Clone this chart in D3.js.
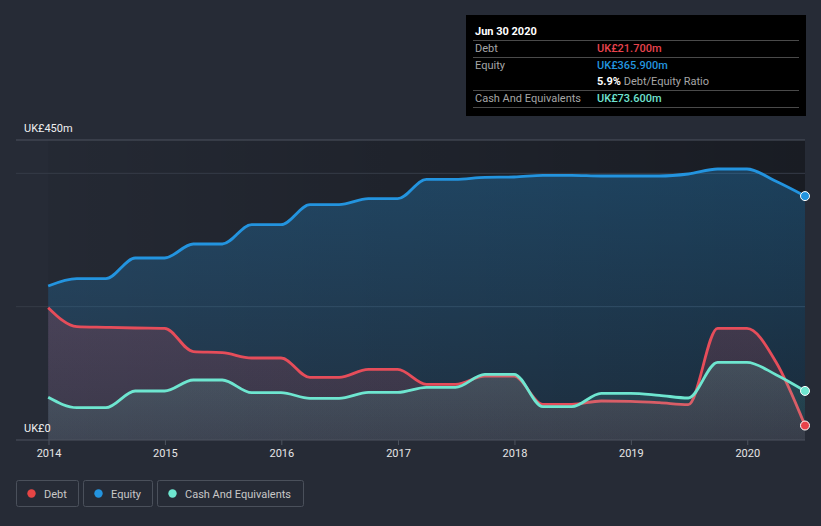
<!DOCTYPE html>
<html><head><meta charset="utf-8">
<script src="https://cdn.jsdelivr.net/npm/d3@7"></script>
<style>
html,body{margin:0;padding:0;background:#262b36;}
svg{display:block;font-family:Roboto,"Noto Sans",sans-serif;}
</style></head>
<body>
<svg id="chart" width="821" height="526"></svg>
<script>
const dates = ["2013-12-31","2014-03-31","2014-06-30","2014-09-30","2014-12-31","2015-03-31","2015-06-30","2015-09-30","2015-12-31","2016-03-31","2016-06-30","2016-09-30","2016-12-31","2017-03-31","2017-06-30","2017-09-30","2017-12-31","2018-03-31","2018-06-30","2018-09-30","2018-12-31","2019-03-31","2019-06-30","2019-09-30","2019-12-31","2020-03-31","2020-06-30"];
const equity = [231,242,242,273,273,294,294,323,323,353,353,362,362,391,391,394,394.5,397,397,396,396,396,399,406.5,406.5,388,365.9];
const debt = [198.5,170,169,168,167.5,132.5,131,123,123,94,94,106,106,83.5,83.5,96,96,53.5,53.5,58.5,58,56,53,167.5,167.5,117,21.7];
const cash = [64,48.5,48.5,73.5,73.5,90,90,71,71,62.5,62.5,71.5,71.5,79,79,98.5,98.5,50,50,70,70,67,63,116.5,116.5,98,73.6];
const yTicks = [0, 450];
const yGrid = [200, 400];
const seriesNames = ["Debt","Equity","Cash And Equivalents"];
const colors = {debt:"#e64d5a", equity:"#2394df", cash:"#6ee6d0"};

const svg = d3.select("#chart");
const parse = d3.timeParse("%Y-%m-%d");
const D = dates.map(parse);
const x = d3.scaleTime().domain([new Date(2014,0,1), new Date(2020,5,30)]).range([48.5, 805]);
const y = d3.scaleLinear().domain([0, 450]).range([440, 140]);

const defs = svg.append("defs");
const bgGrad = defs.append("linearGradient").attr("id","bgG").attr("x1",0).attr("x2",1).attr("y1",0).attr("y2",0);
bgGrad.append("stop").attr("offset","0%").attr("stop-color","#000").attr("stop-opacity",0.05);
bgGrad.append("stop").attr("offset","100%").attr("stop-color","#000").attr("stop-opacity",0.35);
function grad(id, col, o1, o2){
  const g = defs.append("linearGradient").attr("id",id).attr("gradientUnits","userSpaceOnUse")
    .attr("x1",0).attr("x2",0).attr("y1",140).attr("y2",440);
  g.append("stop").attr("offset","0%").attr("stop-color",col).attr("stop-opacity",o1);
  g.append("stop").attr("offset","100%").attr("stop-color",col).attr("stop-opacity",o2);
}
grad("gEq", colors.equity, 0.32, 0.12);
grad("gDe", colors.debt, 0.28, 0.12);
grad("gCa", colors.cash, 0.32, 0.08);

// plot background
svg.append("rect").attr("x", x(D[0])).attr("y", 140).attr("width", 805 - x(D[0])).attr("height", 300).attr("fill","url(#bgG)");

// gridlines
svg.append("line").attr("x1",16).attr("x2",805).attr("y1",y(450)).attr("y2",y(450)).attr("stroke","#4d535e").attr("stroke-width",1);
yGrid.forEach(v=>{
  svg.append("line").attr("x1",16).attr("x2",805).attr("y1",y(v)).attr("y2",y(v)).attr("stroke","#353c47").attr("stroke-width",1);
});

const curve = d3.curveMonotoneX;
function drawSeries(vals, col, gid){
  const area = d3.area().x((d,i)=>x(D[i])).y0(y(0)).y1(d=>y(d)).curve(curve);
  const line = d3.line().x((d,i)=>x(D[i])).y(d=>y(d)).curve(curve);
  svg.append("path").datum(vals).attr("d", area).attr("fill", `url(#${gid})`);
  svg.append("path").datum(vals).attr("d", line).attr("fill","none").attr("stroke", col).attr("stroke-width",2.8).attr("stroke-linejoin","round");
}
drawSeries(equity, colors.equity, "gEq");
drawSeries(debt, colors.debt, "gDe");
drawSeries(cash, colors.cash, "gCa");

// end markers
const last = D.length-1;
[[equity, colors.equity],[cash, colors.cash],[debt, "#e8424a"]].forEach(([v,c])=>{
  svg.append("circle").attr("cx", x(D[last])).attr("cy", y(v[last])).attr("r",4.5).attr("fill",c).attr("stroke","#fff").attr("stroke-width",1);
});

// x axis
svg.append("line").attr("x1",16).attr("x2",805).attr("y1",440).attr("y2",440).attr("stroke","#4d535e").attr("stroke-width",1.2);
const xAxis = d3.axisBottom(x).ticks(d3.timeYear.every(1)).tickFormat(d3.timeFormat("%Y")).tickSize(5).tickPadding(4);
const gx = svg.append("g").attr("transform","translate(0,440)").call(xAxis);
gx.select(".domain").remove();
gx.selectAll(".tick line").attr("stroke","#4d535e");
gx.selectAll(".tick text").attr("fill","#e6e6e6").attr("font-size",11).attr("font-family","Roboto, sans-serif");

// y labels
yTicks.forEach(v=>{
  svg.append("text").attr("x",24).attr("y", y(v) - 8).text(v===0 ? "UK£0" : "UK£" + v + "m")
    .attr("fill","#f0f0f0").attr("font-size",11);
});

// tooltip
const tt = svg.append("g");
tt.append("rect").attr("x",466).attr("y",15).attr("width",340).attr("height",101).attr("fill","#000");
tt.append("text").attr("x",475).attr("y",35).text("Jun 30 2020").attr("fill","#fff").attr("font-size",11).attr("font-weight","bold");
[40,57,90,107].forEach(yy=>{
  tt.append("line").attr("x1",473).attr("x2",799).attr("y1",yy+0.5).attr("y2",yy+0.5).attr("stroke","#4a4a4a");
});
const rows = [
  {label:"Debt", value:"UK£21.700m", col:"#e8434d", y:52},
  {label:"Equity", value:"UK£365.900m", col:"#2394df", y:69},
  {label:"Cash And Equivalents", value:"UK£73.600m", col:"#6fe3d0", y:102}
];
rows.forEach(r=>{
  tt.append("text").attr("x",475).attr("y",r.y).text(r.label).attr("fill","#a6a6a6").attr("font-size",11);
  tt.append("text").attr("x",597).attr("y",r.y).text(r.value).attr("fill",r.col).attr("font-size",11).attr("font-weight",500);
});
const ratio = tt.append("text").attr("x",597).attr("y",85).attr("font-size",11);
ratio.append("tspan").text("5.9%").attr("fill","#fff").attr("font-weight","bold");
ratio.append("tspan").text(" Debt/Equity Ratio").attr("fill","#a6a6a6");

// legend
const legend = [
  {name:seriesNames[0], col:"#e64545", x:16, w:62},
  {name:seriesNames[1], col:colors.equity, x:83, w:69},
  {name:seriesNames[2], col:colors.cash, x:157, w:146}
];
legend.forEach(l=>{
  const g = svg.append("g");
  g.append("rect").attr("x",l.x+0.5).attr("y",480.5).attr("width",l.w).attr("height",26).attr("rx",2).attr("fill","none").attr("stroke","#4a505b");
  g.append("circle").attr("cx",l.x+15.5).attr("cy",493.5).attr("r",4.2).attr("fill",l.col);
  g.append("text").attr("x",l.x+28).attr("y",497.5).text(l.name).attr("fill","#c8c8c8").attr("font-size",11);
});
</script>
</body></html>
